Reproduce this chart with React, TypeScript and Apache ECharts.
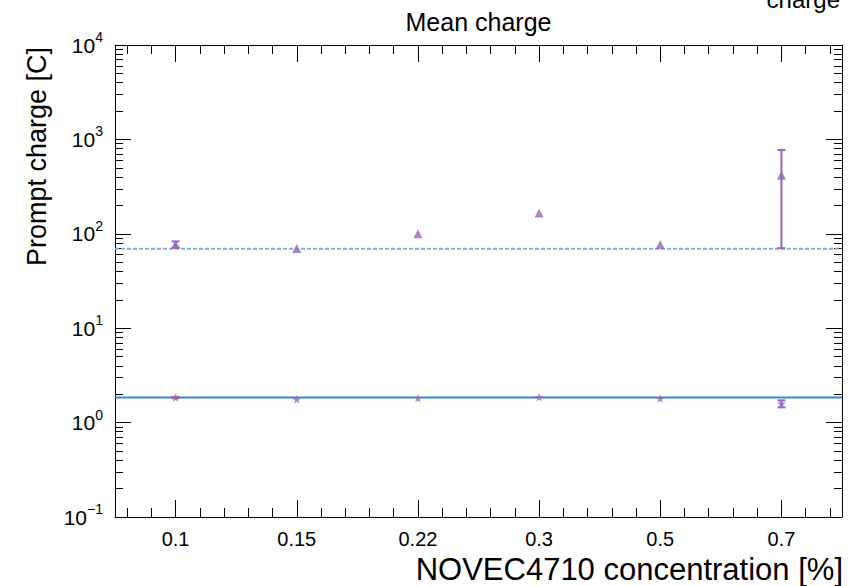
import React, { useEffect, useRef } from "react";
import * as echarts from "echarts";

const categories = ["0.1", "0.15", "0.22", "0.3", "0.5", "0.7"];
const upperMean = [77, 70, 100, 166, 77, 416];
const upperLow = [71.8, 70, 100, 166, 77, 70.5];
const upperHigh = [83, 70, 100, 166, 77, 773];
const lowerMean = [1.84, 1.77, 1.82, 1.86, 1.8, 1.59];
const lowerLow = [1.81, 1.77, 1.82, 1.86, 1.8, 1.45];
const lowerHigh = [1.87, 1.77, 1.82, 1.86, 1.8, 1.72];
const fitUpper = 69.3;
const fitLower = 1.84;
const yDecades = [0.1, 1, 10, 100, 1000, 10000];

const FONT = '"Liberation Sans", Arial, Helvetica, sans-serif';
const PURPLE = "#9467bd";
const STAR =
  "path://M50,0 L61,35 L98,35 L68,57 L79,91 L50,70 L21,91 L32,57 L2,35 L39,35 Z";

const xMin = -0.5;
const xMax = categories.length - 0.5;
const xMajor = categories.map((_, i) => i);
const xMinor: number[] = [];
for (let k = 0; k < categories.length * 5; k++) {
  const v = +(xMin + (k + 0.5) * 0.2).toFixed(3);
  if (Math.abs(v - Math.round(v)) > 1e-6) xMinor.push(v);
}
const yMinor: number[] = [];
for (let d = 0; d < yDecades.length - 1; d++) {
  for (let m = 2; m <= 9; m++) yMinor.push(+(yDecades[d] * m).toPrecision(3));
}

const supLabel = (v: number) => {
  const e = Math.round(Math.log10(v));
  return `{b|10}{e|${e < 0 ? "\u2212" + -e : e}}`;
};

function xAxisDef(position: "bottom" | "top", minor: boolean, showLabel: boolean) {
  return {
    type: "value",
    position,
    min: xMin,
    max: xMax,
    axisLine: { show: !minor, onZero: false, lineStyle: { color: "#000", width: 1 } },
    splitLine: { show: false },
    axisTick: {
      show: true,
      inside: true,
      length: minor ? 9 : 17,
      customValues: minor ? xMinor : xMajor,
      lineStyle: { color: "#000", width: 1 },
    },
    axisLabel: {
      show: showLabel,
      customValues: xMajor,
      formatter: (v: number) => categories[Math.round(v)] ?? "",
      color: "#000",
      fontFamily: FONT,
      fontSize: 20,
      lineHeight: 20,
      margin: 12,
    },
  };
}

function yAxisDef(position: "left" | "right", minor: boolean, showLabel: boolean) {
  return {
    type: "log",
    logBase: 10,
    position,
    min: 0.1,
    max: 10000,
    axisLine: { show: !minor, onZero: false, lineStyle: { color: "#000", width: 1 } },
    splitLine: { show: false },
    axisTick: {
      show: true,
      inside: true,
      length: minor ? 8 : 16,
      customValues: minor ? yMinor : yDecades,
      lineStyle: { color: "#000", width: 1 },
    },
    axisLabel: {
      show: showLabel,
      customValues: yDecades,
      formatter: supLabel,
      margin: 12,
      color: "#000",
      rich: {
        b: { fontFamily: FONT, fontSize: 21, lineHeight: 30, color: "#000" },
        e: {
          fontFamily: FONT,
          fontSize: 14,
          lineHeight: 16,
          verticalAlign: "top",
          color: "#000",
        },
      },
    },
  };
}

function errorSeries(low: number[], high: number[]) {
  return {
    type: "custom",
    xAxisIndex: 0,
    yAxisIndex: 0,
    z: 4,
    data: low.map((l, i) => [i, l, high[i]]),
    encode: { x: 0, y: [1, 2] },
    renderItem: (_p: any, api: any) => {
      const x = api.value(0);
      const lo = api.value(1);
      const hi = api.value(2);
      if (hi - lo <= 0) return { type: "group", children: [] };
      const a = api.coord([x, lo]);
      const b = api.coord([x, hi]);
      const st = { stroke: PURPLE, lineWidth: 2 };
      return {
        type: "group",
        children: [
          { type: "line", shape: { x1: a[0], y1: a[1], x2: b[0], y2: b[1] }, style: st },
          { type: "line", shape: { x1: a[0] - 4, y1: a[1], x2: a[0] + 4, y2: a[1] }, style: st },
          { type: "line", shape: { x1: b[0] - 4, y1: b[1], x2: b[0] + 4, y2: b[1] }, style: st },
        ],
      };
    },
  };
}

export default function App() {
  const ref = useRef<HTMLDivElement>(null);
  useEffect(() => {
    if (!ref.current) return;
    const chart = echarts.init(ref.current, null, { renderer: "svg" });
    chart.setOption({
      animation: false,
      backgroundColor: "#fff",
      textStyle: { fontFamily: FONT },
      grid: { left: 115, right: 17, top: 45, bottom: 69, containLabel: false },
      xAxis: [
        xAxisDef("bottom", false, true),
        xAxisDef("bottom", true, false),
        xAxisDef("top", false, false),
        xAxisDef("top", true, false),
      ],
      yAxis: [
        yAxisDef("left", false, true),
        yAxisDef("left", true, false),
        yAxisDef("right", false, false),
        yAxisDef("right", true, false),
      ],
      graphic: [
        {
          type: "text",
          x: 478.5,
          y: 22,
          style: {
            text: "Mean charge",
            font: `25px ${FONT}`,
            fill: "#000",
            textAlign: "center",
            textVerticalAlign: "middle",
          },
        },
        {
          type: "text",
          x: 840,
          y: 11,
          style: {
            text: "charge",
            font: `24px ${FONT}`,
            fill: "#000",
            textAlign: "right",
            textVerticalAlign: "bottom",
          },
        },
        {
          type: "text",
          x: 37,
          y: 47,
          rotation: Math.PI / 2,
          style: {
            text: "Prompt charge [C]",
            font: `27px ${FONT}`,
            fill: "#000",
            textAlign: "right",
            textVerticalAlign: "middle",
          },
        },
        {
          type: "text",
          x: 843,
          y: 569,
          style: {
            text: "NOVEC4710 concentration [%]",
            font: `31px ${FONT}`,
            fill: "#000",
            textAlign: "right",
            textVerticalAlign: "middle",
          },
        },
      ],
      series: [
        {
          type: "line",
          xAxisIndex: 0,
          yAxisIndex: 0,
          data: [
            [xMin, fitUpper],
            [xMax, fitUpper],
          ],
          symbol: "none",
          z: 2,
          lineStyle: { color: "#7fb2d8", width: 2, type: [4, 2] },
        },
        {
          type: "line",
          xAxisIndex: 0,
          yAxisIndex: 0,
          data: [
            [xMin, fitLower],
            [xMax, fitLower],
          ],
          symbol: "none",
          z: 2,
          lineStyle: { color: "#3d87c4", width: 2 },
        },
        errorSeries(upperLow, upperHigh),
        errorSeries(lowerLow, lowerHigh),
        {
          type: "scatter",
          xAxisIndex: 0,
          yAxisIndex: 0,
          z: 5,
          symbol: "triangle",
          symbolSize: 9,
          itemStyle: { color: PURPLE },
          data: upperMean.map((v, i) => [i, v]),
        },
        {
          type: "scatter",
          xAxisIndex: 0,
          yAxisIndex: 0,
          z: 5,
          symbol: STAR,
          symbolSize: 9,
          itemStyle: { color: PURPLE },
          data: lowerMean.map((v, i) => [i, v]),
        },
      ],
    });
    return () => chart.dispose();
  }, []);
  return (
    <div
      ref={ref}
      style={{ position: "fixed", left: 0, top: 0, width: 859, height: 586 }}
    />
  );
}
